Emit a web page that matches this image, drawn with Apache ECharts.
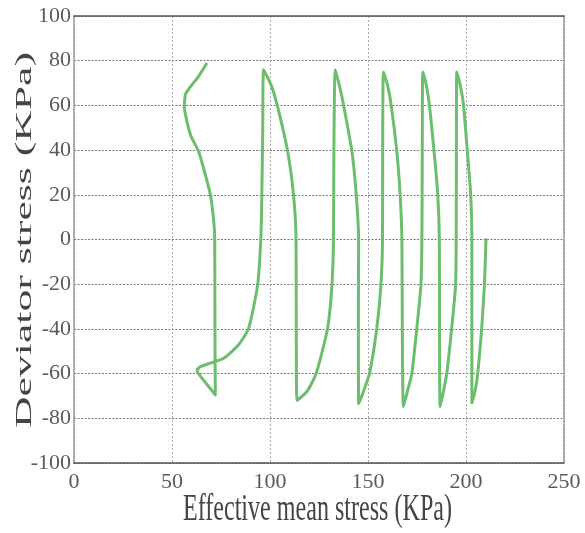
<!DOCTYPE html>
<html>
<head>
<meta charset="utf-8">
<title>Effective stress path</title>
<script src="https://cdn.jsdelivr.net/npm/echarts@6/dist/echarts.min.js"></script>
<style>
  html, body { margin: 0; padding: 0; background: #fff; }
  #chart { width: 585px; height: 533px; }
</style>
</head>
<body>
<div id="chart"></div>
<script>
// Undrained cyclic loading: effective stress path (p', q), in loading order.
const meanStress = [
  210.2, 209.4, 208.0, 206.0, 204.6, 203.0,
  203.0, 203.0, 202.4, 200.7, 198.7, 197.0, 195.3,
  195.1, 195.0, 194.7, 192.7, 190.2, 188.5, 186.8,
  186.5, 186.4, 185.6, 183.7, 181.3, 179.7, 178.0,
  177.7, 177.5, 177.0, 174.9, 172.4, 170.1, 168.1,
  167.5, 167.3, 166.4, 164.7, 161.8, 159.9, 157.9,
  157.5, 157.4, 156.6, 154.5, 150.8, 147.7, 145.2,
  145.1, 145.2, 144.0, 141.8, 137.5, 135.3, 133.3,
  132.6, 132.4, 131.6, 129.4, 123.6, 118.9, 113.8,
  113.4, 113.3, 112.0, 109.0, 103.6, 100.5, 96.7,
  96.3, 95.8, 95.3, 93.7, 89.1, 84.0, 76.4, 69.6, 64.5, 62.8, 63.2, 72.1,
  71.9, 71.8, 71.3, 69.6, 67.0, 63.6, 59.4, 56.3, 56.8, 57.7, 60.2, 63.6, 67.5
];
const deviatorStress = [
  0, -20.3, -39.7, -59.8, -68, -73.1,
  -36, 0, 20, 39.4, 60.3, 69.3, 74.9,
  40, 0, -20.3, -39.7, -59.8, -68, -74.8,
  -40, 0, 20, 39.4, 60.3, 69.3, 74.9,
  40, 0, -20.3, -39.7, -59.8, -68, -74.8,
  -40, 0, 20, 39.4, 60.3, 69.3, 74.9,
  40, 0, -20.3, -39.7, -59.8, -68, -73.5,
  -40, 0, 20, 39.4, 60.3, 69.3, 76.0,
  40, 0, -20.3, -39.7, -59.8, -68, -72.0,
  -40, 0, 20, 39.4, 60.3, 69.3, 76.0,
  49, 17.8, 0, -20.3, -39.7, -47.1, -53.1, -55.3, -56.9, -58.3, -59.7, -69.5,
  -40, 0, 8.1, 20, 29, 39.4, 46.9, 59.5, 64.8, 66.3, 69.3, 73.0, 78.5
];

const xTicks = { min: 0, max: 250, step: 50 };
const yTicks = { min: -100, max: 100, step: 20 };
const xTitle = 'Effective mean stress (KPa)';
const yTitle = 'Deviator stress (KPa)';

const pathData = meanStress.map((p, i) => [p, deviatorStress[i]]);

const serif = 'Liberation Serif';

// stretch factor that makes a title span the given length
function stretchTo(text, fontSize, targetLength) {
  const ctx = document.createElement('canvas').getContext('2d');
  ctx.font = fontSize + 'px "' + serif + '"';
  return targetLength / ctx.measureText(text).width;
}

const chart = echarts.init(document.getElementById('chart'), null, { renderer: 'canvas' });

const labelStyle = { fontFamily: serif, fontSize: 22, color: '#5a5a5a' };

chart.setOption({
  animation: false,
  backgroundColor: '#fff',
  grid: { left: 74, right: 21, top: 16, bottom: 70, containLabel: false },
  xAxis: [
    {
      type: 'value', min: xTicks.min, max: xTicks.max, interval: xTicks.step,
      axisLine: { onZero: false, lineStyle: { color: '#555', width: 1.5 } },
      axisTick: { show: false },
      axisLabel: Object.assign({ margin: 8 }, labelStyle),
      splitLine: { lineStyle: { color: '#aaa', type: [2, 2], width: 1 } }
    },
    {
      type: 'value', position: 'top', min: xTicks.min, max: xTicks.max, interval: xTicks.step,
      axisLine: { show: true, onZero: false, lineStyle: { color: '#555', width: 1.5 } },
      axisTick: { show: false }, axisLabel: { show: false }, splitLine: { show: false }
    }
  ],
  yAxis: [
    {
      type: 'value', min: yTicks.min, max: yTicks.max, interval: yTicks.step,
      axisLine: { show: true, onZero: false, lineStyle: { color: '#999', width: 1.5 } },
      axisTick: { show: false },
      axisLabel: Object.assign({ margin: 3 }, labelStyle),
      splitLine: { lineStyle: { color: '#777', type: [2, 1.5], width: 1 } }
    },
    {
      type: 'value', position: 'right', min: yTicks.min, max: yTicks.max, interval: yTicks.step,
      axisLine: { show: true, onZero: false, lineStyle: { color: '#999', width: 1.5 } },
      axisTick: { show: false }, axisLabel: { show: false }, splitLine: { show: false }
    }
  ],
  series: [{
    type: 'line',
    data: pathData,
    showSymbol: false,
    smooth: 0.2,
    lineStyle: { color: '#6cbd6c', width: 3, join: 'round', cap: 'round' },
    z: 3
  }],
  graphic: [
    {
      type: 'text', x: 317.5, y: 510,
      scaleX: stretchTo(xTitle, 38, 269), scaleY: 1,
      style: { text: xTitle, font: '38px "' + serif + '"', fill: '#444', align: 'center', verticalAlign: 'middle' }
    },
    {
      type: 'text', x: 25, y: 240, rotation: Math.PI / 2,
      scaleX: stretchTo(yTitle, 23, 376), scaleY: 1,
      style: { text: yTitle, font: '23px "' + serif + '"', fill: '#444', align: 'center', verticalAlign: 'middle' }
    }
  ]
});
</script>
</body>
</html>
